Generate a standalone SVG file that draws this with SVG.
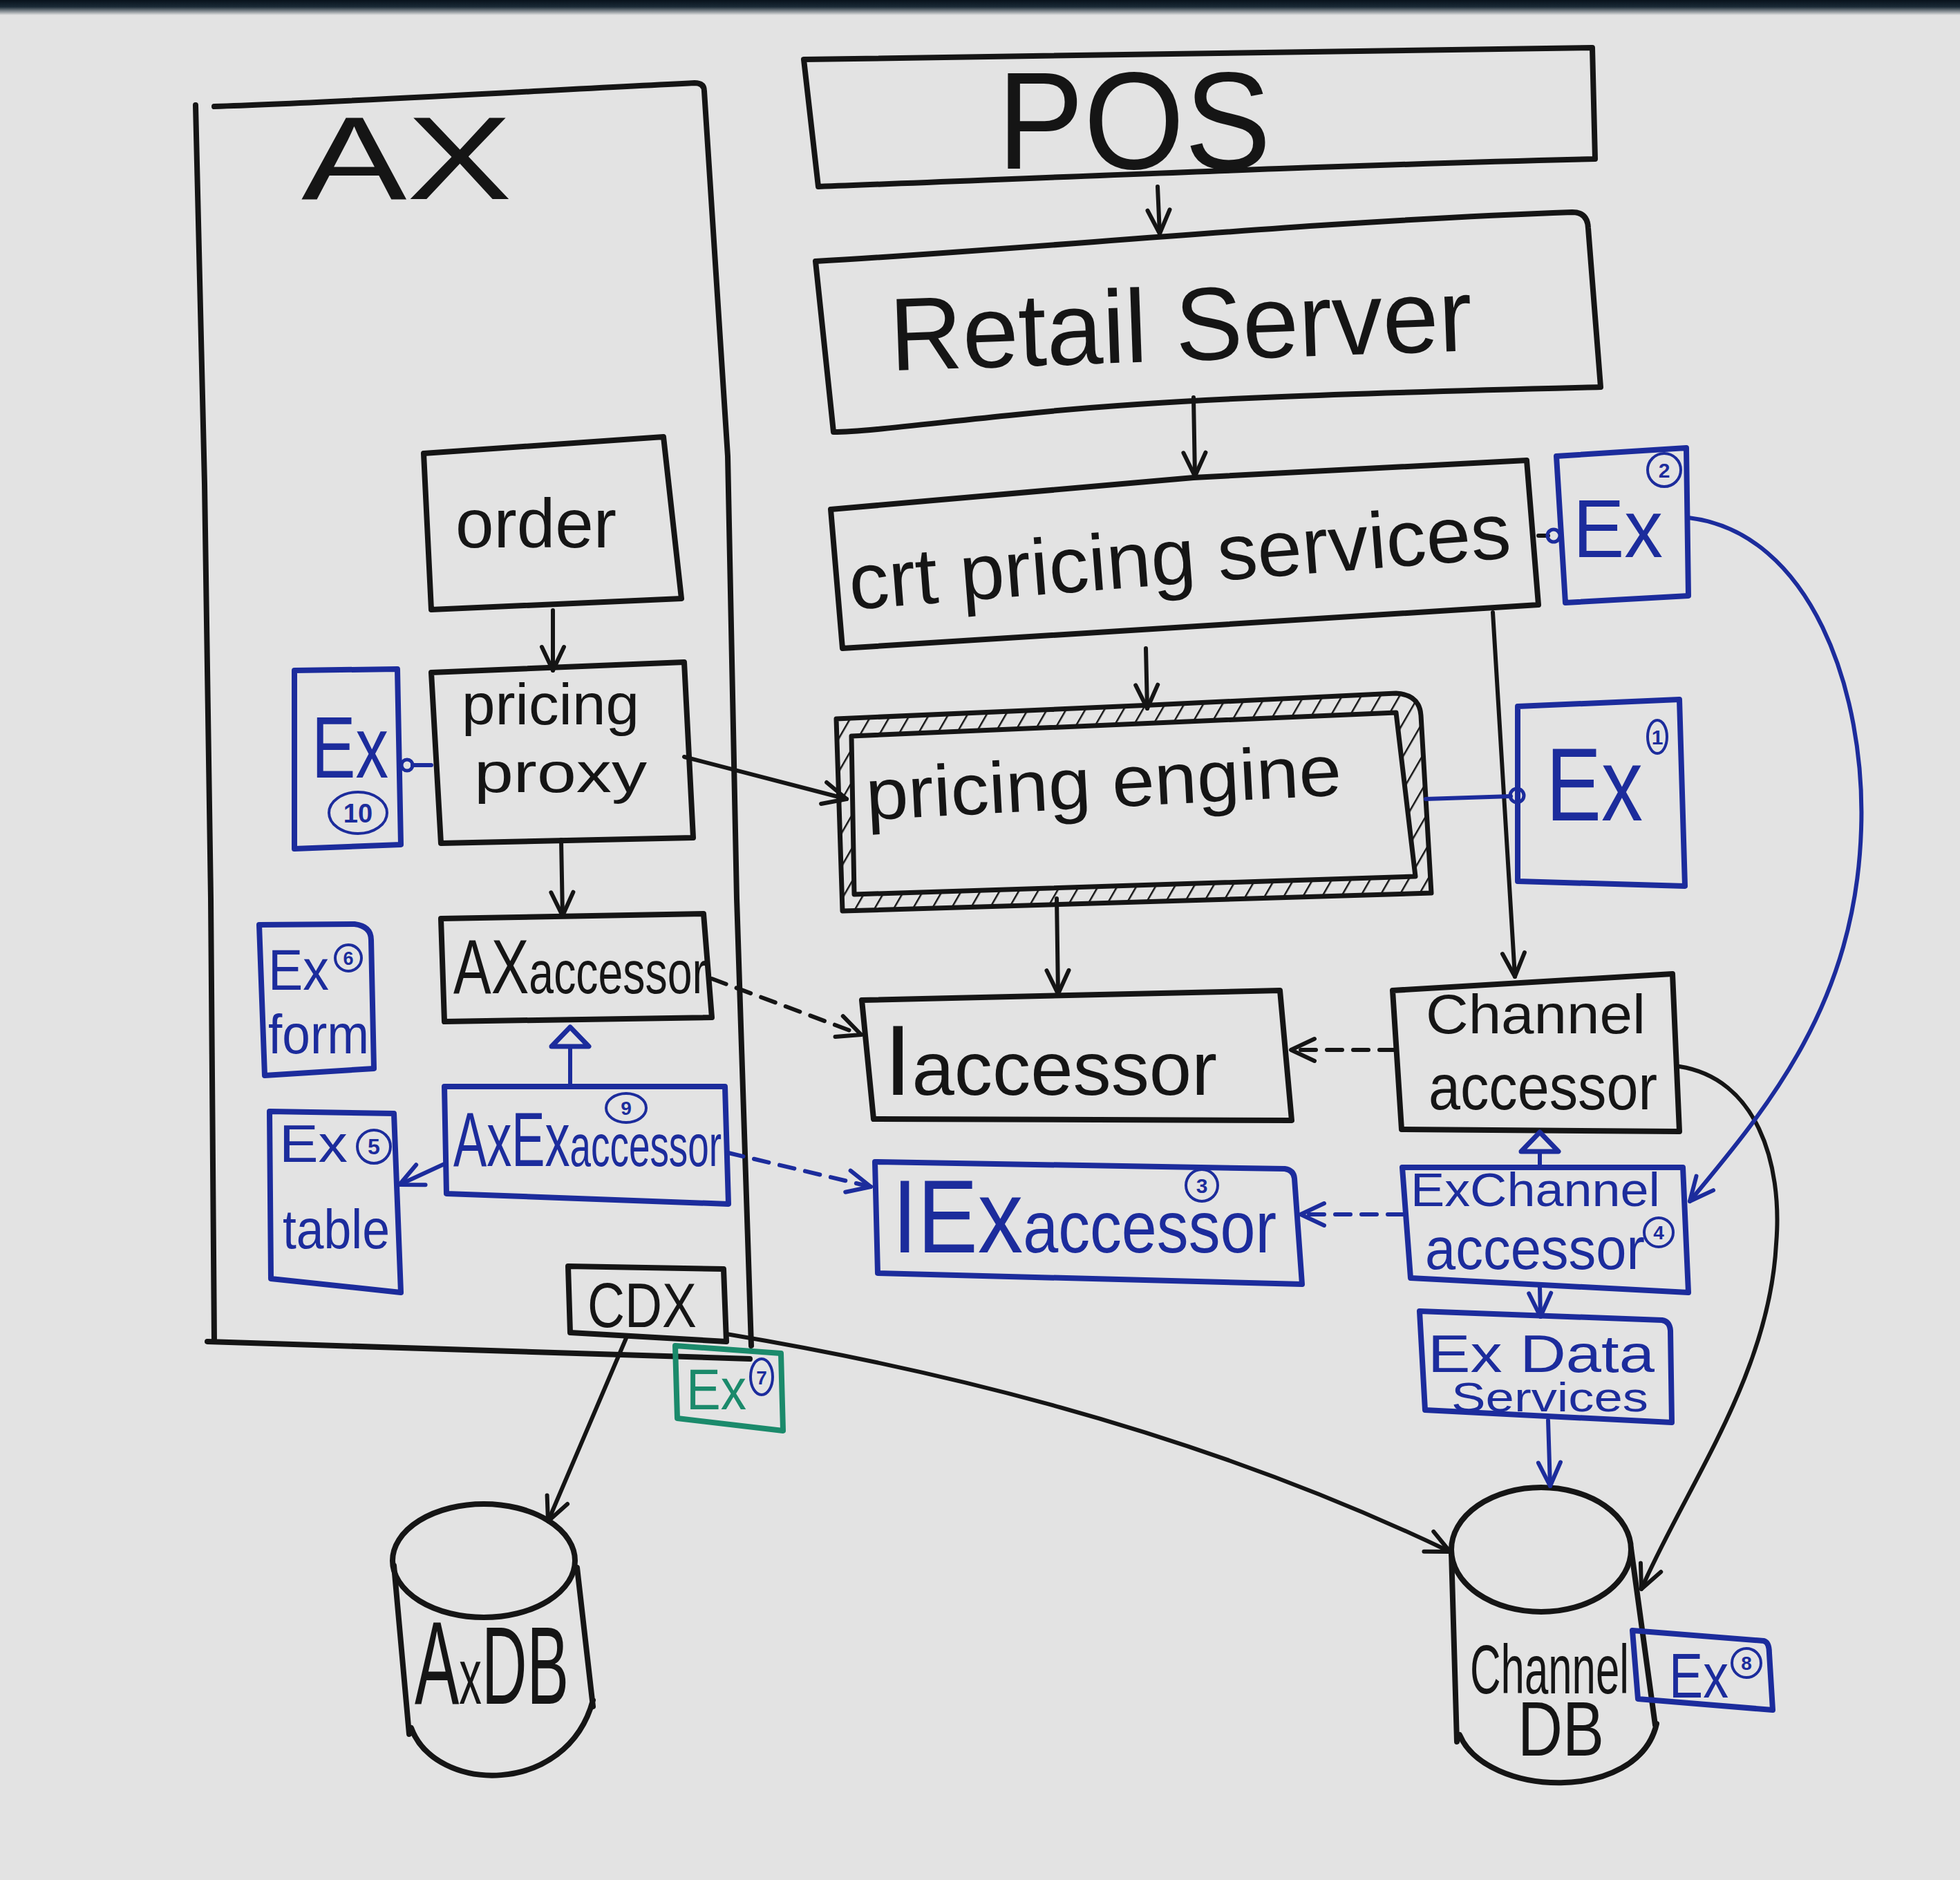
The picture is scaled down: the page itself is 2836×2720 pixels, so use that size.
<svg xmlns="http://www.w3.org/2000/svg" width="2836" height="2720" viewBox="0 0 2836 2720">
<style>
.bk{fill:none;stroke:#151515;stroke-width:8;stroke-linejoin:round;stroke-linecap:round}
.bl{fill:none;stroke:#1c2c9c;stroke-width:8;stroke-linejoin:round;stroke-linecap:round}
.gr{fill:none;stroke:#1b8a6b;stroke-width:8;stroke-linejoin:round;stroke-linecap:round}
.cb{fill:none;stroke:#151515;stroke-width:6;stroke-linecap:round}
.cu{fill:none;stroke:#1c2c9c;stroke-width:6;stroke-linecap:round}
.dash{stroke-dasharray:22 16}
.num{fill:none;stroke:#1c2c9c;stroke-width:4}
text{font-family:"Liberation Sans","DejaVu Sans",sans-serif}
.tk{fill:#151515}
.tb{fill:#1c2c9c}
.tg{fill:#1b8a6b}
.tn{fill:#1c2c9c;font-weight:bold;text-anchor:middle}
</style>
<defs>
<marker id="ab" markerUnits="userSpaceOnUse" markerWidth="44" markerHeight="44" viewBox="0 0 44 44" refX="40" refY="22" orient="auto">
<path d="M6,6 L40,22 L6,38" fill="none" stroke="#151515" stroke-width="6" stroke-linecap="round" stroke-linejoin="round"/>
</marker>
<marker id="au" markerUnits="userSpaceOnUse" markerWidth="44" markerHeight="44" viewBox="0 0 44 44" refX="40" refY="22" orient="auto">
<path d="M6,6 L40,22 L6,38" fill="none" stroke="#1c2c9c" stroke-width="6" stroke-linecap="round" stroke-linejoin="round"/>
</marker>
<marker id="tri" markerUnits="userSpaceOnUse" markerWidth="50" markerHeight="70" viewBox="-6 -35 50 70" refX="30" refY="0" orient="auto">
<path d="M2,-27 L30,0 L2,27 Z" fill="#e3e3e3" stroke="#1c2c9c" stroke-width="7" stroke-linejoin="round"/>
</marker>
<pattern id="hatch" patternUnits="userSpaceOnUse" width="24" height="24" patternTransform="rotate(30)">
<rect width="24" height="24" fill="#e3e3e3"/>
<line x1="0" y1="0" x2="0" y2="24" stroke="#151515" stroke-width="5"/>
</pattern>
<linearGradient id="edge" x1="0" y1="0" x2="0" y2="1">
<stop offset="0" stop-color="#08121c"/>
<stop offset="0.45" stop-color="#1a2a36"/>
<stop offset="1" stop-color="#e3e3e3"/>
</linearGradient>
</defs>
<rect x="0" y="0" width="2836" height="2720" fill="#e3e3e3"/>
<rect x="0" y="0" width="2836" height="22" fill="url(#edge)"/>

<g id="ax">
<path class="bk" d="M283,152 L296,700 L305,1300 L310,1941 M310,154 C500,148 800,130 1005,120 Q1019,120 1019,132 L1053,660 L1066,1300 L1087,1947 M300,1941 C600,1950 900,1958 1085,1966"/>
<text class="tk" x="436" y="288" font-size="170" textLength="305" lengthAdjust="spacingAndGlyphs">AX</text>
</g>

<g id="pos">
<path class="bk" d="M1163,86 C1500,80 1900,72 2304,69 L2308,230 C1900,240 1500,258 1184,270 Z"/>
<text class="tk" x="1443" y="244" font-size="200" textLength="396" lengthAdjust="spacingAndGlyphs">POS</text>
</g>

<g id="retail-server">
<path class="bk" d="M1180,378 C1500,360 1900,320 2275,307 Q2297,307 2298,330 L2316,560 C2000,568 1700,575 1470,600 C1350,612 1250,625 1206,625 Z"/>
<text class="tk" x="1288" y="522" font-size="150" textLength="843" lengthAdjust="spacingAndGlyphs" transform="rotate(-2 1700 500)">Retail Server</text>
</g>

<g id="crt-pricing-services">
<path class="bk" d="M1202,737 L1727,691 L2209,666 L2226,875 L1219,938 Z"/>
<text class="tk" x="1227" y="845" font-size="115" textLength="960" lengthAdjust="spacingAndGlyphs" transform="rotate(-4.5 1700 810)">crt pricing services</text>
</g>

<g id="ex2">
<path class="bl" d="M2252,660 L2440,648 L2443,862 L2265,872 Z"/>
<text class="tb" x="2276" y="806" font-size="118" textLength="130" lengthAdjust="spacingAndGlyphs">Ex</text>
<circle class="num" cx="2408" cy="680" r="24"/>
<text class="tn" x="2408" y="691" font-size="30">2</text>
</g>

<g id="pricing-engine">
<path d="M1210,1040 L1667,1020 L2020,1003 Q2054,1005 2056,1035 L2071,1292 L1219,1318 Z M1232,1065 L2020,1031 L2048,1268 L1236,1294 Z" fill="url(#hatch)" fill-rule="evenodd" stroke="#151515" stroke-width="7" stroke-linejoin="round"/>
<text class="tk" x="1253" y="1168" font-size="105" textLength="689" lengthAdjust="spacingAndGlyphs" transform="rotate(-3 1600 1150)">pricing engine</text>
</g>

<g id="ex1">
<path class="bl" d="M2196,1022 L2430,1012 L2438,1282 L2196,1275 Z"/>
<text class="tb" x="2237" y="1187" font-size="150" textLength="140" lengthAdjust="spacingAndGlyphs">Ex</text>
<ellipse class="num" cx="2398" cy="1066" rx="14" ry="24"/>
<text class="tn" x="2398" y="1077" font-size="30">1</text>
</g>

<g id="order">
<path class="bk" d="M613,656 L960,632 L986,866 L624,882 Z"/>
<text class="tk" x="659" y="792" font-size="100" textLength="233" lengthAdjust="spacingAndGlyphs">order</text>
</g>

<g id="pricing-proxy">
<path class="bk" d="M624,973 L990,958 L1003,1212 L638,1220 Z"/>
<text class="tk" x="668" y="1048" font-size="84" textLength="257" lengthAdjust="spacingAndGlyphs">pricing</text>
<text class="tk" x="686" y="1146" font-size="82" textLength="250" lengthAdjust="spacingAndGlyphs">proxy</text>
</g>

<g id="ex10">
<path class="bl" d="M426,970 L575,968 L580,1222 L426,1228 Z"/>
<text class="tb" x="451" y="1125" font-size="126" textLength="111" lengthAdjust="spacingAndGlyphs">Ex</text>
<ellipse class="num" cx="518" cy="1176" rx="42" ry="30"/>
<text class="tn" x="518" y="1190" font-size="38">10</text>
</g>

<g id="ax-accessor">
<path class="bk" d="M638,1329 L1018,1322 L1030,1472 L643,1478 Z"/>
<text class="tk" x="656" y="1437" textLength="367" lengthAdjust="spacingAndGlyphs"><tspan font-size="112">AX</tspan><tspan font-size="88">accessor</tspan></text>
</g>

<g id="ex6-form">
<path class="bl" d="M375,1338 L513,1337 Q537,1340 537,1360 L541,1546 L383,1556 Z"/>
<text class="tb" x="388" y="1432" font-size="84" textLength="88" lengthAdjust="spacingAndGlyphs">Ex</text>
<circle class="num" cx="504" cy="1386" r="19"/>
<text class="tn" x="504" y="1396" font-size="27">6</text>
<text class="tb" x="388" y="1524" font-size="80" textLength="146" lengthAdjust="spacingAndGlyphs">form</text>
</g>

<g id="ax-ex-accessor">
<path class="bl" d="M643,1572 L1049,1572 L1054,1742 L646,1727 Z"/>
<text class="tb" x="656" y="1687" textLength="388" lengthAdjust="spacingAndGlyphs"><tspan font-size="112">AxEx</tspan><tspan font-size="85">accessor</tspan></text>
<ellipse class="num" cx="906" cy="1603" rx="29" ry="21"/>
<text class="tn" x="906" y="1613" font-size="28">9</text>
</g>

<g id="ex5-table">
<path class="bl" d="M390,1608 L570,1611 L580,1870 L392,1850 Z"/>
<text class="tb" x="404" y="1681" font-size="76" textLength="99" lengthAdjust="spacingAndGlyphs">Ex</text>
<circle class="num" cx="541" cy="1659" r="24"/>
<text class="tn" x="541" y="1670" font-size="32">5</text>
<text class="tb" x="409" y="1806" font-size="80" textLength="155" lengthAdjust="spacingAndGlyphs">table</text>
</g>

<g id="cdx">
<path class="bk" d="M822,1832 L1047,1836 L1051,1941 L825,1928 Z"/>
<text class="tk" x="850" y="1920" font-size="90" textLength="158" lengthAdjust="spacingAndGlyphs">CDX</text>
</g>

<g id="ex7">
<path class="gr" d="M977,1947 L1130,1958 L1133,2070 L980,2052 Z"/>
<text class="tg" x="993" y="2039" font-size="84" textLength="87" lengthAdjust="spacingAndGlyphs">Ex</text>
<ellipse class="num" cx="1102" cy="1992" rx="16" ry="26"/>
<text class="tn" x="1102" y="2003" font-size="28">7</text>
</g>

<g id="i-accessor">
<path class="bk" d="M1247,1447 L1852,1433 L1869,1621 L1264,1619 Z"/>
<text class="tk" x="1279" y="1584" textLength="482" lengthAdjust="spacingAndGlyphs"><tspan font-size="145">I</tspan><tspan font-size="110">accessor</tspan></text>
</g>

<g id="channel-accessor">
<path class="bk" d="M2015,1433 L2420,1409 L2430,1637 L2028,1634 Z"/>
<text class="tk" x="2063" y="1495" font-size="80" textLength="318" lengthAdjust="spacingAndGlyphs">Channel</text>
<text class="tk" x="2067" y="1605" font-size="92" textLength="331" lengthAdjust="spacingAndGlyphs">accessor</text>
</g>

<g id="iex-accessor">
<path class="bl" d="M1266,1681 L1859,1691 Q1872,1693 1873,1705 L1884,1858 L1270,1842 Z"/>
<text class="tb" x="1291" y="1812" textLength="556" lengthAdjust="spacingAndGlyphs"><tspan font-size="150">IEx</tspan><tspan font-size="105">accessor</tspan></text>
<circle class="num" cx="1739" cy="1715" r="23"/>
<text class="tn" x="1739" y="1726" font-size="30">3</text>
</g>

<g id="ex-channel-accessor">
<path class="bl" d="M2029,1689 L2435,1689 L2443,1870 L2041,1849 Z"/>
<text class="tb" x="2041" y="1745" font-size="68" textLength="361" lengthAdjust="spacingAndGlyphs">ExChannel</text>
<text class="tb" x="2062" y="1836" font-size="86" textLength="318" lengthAdjust="spacingAndGlyphs">accessor</text>
<circle class="num" cx="2400" cy="1783" r="21"/>
<text class="tn" x="2400" y="1793" font-size="28">4</text>
</g>

<g id="ex-data-services">
<path class="bl" d="M2054,1897 L2405,1910 Q2416,1912 2417,1925 L2419,2058 L2062,2040 Z"/>
<text class="tb" x="2066" y="1985" font-size="76" textLength="328" lengthAdjust="spacingAndGlyphs">Ex Data</text>
<text class="tb" x="2100" y="2042" font-size="60" textLength="285" lengthAdjust="spacingAndGlyphs">Services</text>
</g>

<g id="ax-db">
<ellipse class="bk" cx="700" cy="2258" rx="132" ry="82"/>
<path class="bk" d="M570,2265 L592,2509 M835,2268 L858,2469 M595,2500 C630,2595 820,2600 858,2460"/>
<text class="tk" x="600" y="2465" textLength="223" lengthAdjust="spacingAndGlyphs"><tspan font-size="170">A</tspan><tspan font-size="115">x</tspan><tspan font-size="160">DB</tspan></text>
</g>

<g id="channel-db">
<ellipse class="bk" cx="2230" cy="2242" rx="130" ry="90"/>
<path class="bk" d="M2100,2245 L2108,2520 M2360,2240 L2395,2496 M2112,2510 C2150,2600 2370,2610 2397,2494"/>
<text class="tk" x="2127" y="2450" font-size="100" textLength="230" lengthAdjust="spacingAndGlyphs">Channel</text>
<text class="tk" x="2196" y="2540" font-size="112" textLength="125" lengthAdjust="spacingAndGlyphs">DB</text>
</g>

<g id="ex8">
<path class="bl" d="M2362,2359 L2552,2374 Q2560,2376 2560,2392 L2565,2474 L2370,2458 Z"/>
<text class="tb" x="2415" y="2456" font-size="90" textLength="86" lengthAdjust="spacingAndGlyphs">Ex</text>
<circle class="num" cx="2527" cy="2406" r="21"/>
<text class="tn" x="2527" y="2416" font-size="28">8</text>
</g>

<g id="connectors">
<path class="cb" d="M1675,270 L1678,338" marker-end="url(#ab)"/>
<path class="cb" d="M1727,575 L1729,689" marker-end="url(#ab)"/>
<path class="cb" d="M1658,938 L1660,1025" marker-end="url(#ab)"/>
<path class="cb" d="M2160,886 L2192,1413" marker-end="url(#ab)"/>
<path class="cb" d="M1529,1300 L1531,1438" marker-end="url(#ab)"/>
<path class="cb" d="M800,883 L800,970" marker-end="url(#ab)"/>
<path class="cb" d="M812,1215 L814,1325" marker-end="url(#ab)"/>
<path class="cb" d="M990,1095 L1225,1156" marker-end="url(#ab)"/>
<path class="cb dash" d="M1030,1416 L1246,1497" marker-end="url(#ab)"/>
<path class="cb dash" d="M2018,1519 L1868,1519" marker-end="url(#ab)"/>
<path class="cb" d="M906,1936 L793,2201" marker-end="url(#ab)"/>
<path class="cb" d="M1051,1930 Q1650,2030 2098,2245" marker-end="url(#ab)"/>
<path class="cb" d="M2430,1543 C2540,1560 2580,1680 2570,1800 C2560,1990 2440,2150 2375,2299" marker-end="url(#ab)"/>
<path class="cb" d="M2226,775 L2240,775"/>
<circle cx="2248" cy="775" r="9" fill="none" stroke="#1c2c9c" stroke-width="5"/>
<path class="cu" d="M2063,1156 L2186,1152"/>
<circle cx="2195" cy="1151" r="10" fill="none" stroke="#1c2c9c" stroke-width="5"/>
<path class="cu" d="M624,1107 L597,1107"/>
<circle cx="589" cy="1107" r="8" fill="none" stroke="#1c2c9c" stroke-width="5"/>
<path class="cu" d="M825,1572 L825,1486" marker-end="url(#tri)"/>
<path class="cu" d="M2228,1689 L2228,1638" marker-end="url(#tri)"/>
<path class="cu dash" d="M1054,1668 L1260,1717" marker-end="url(#au)"/>
<path class="cu dash" d="M2030,1757 L1882,1757" marker-end="url(#au)"/>
<path class="cu" d="M2228,1862 L2229,1905" marker-end="url(#au)"/>
<path class="cu" d="M2240,2055 L2243,2150" marker-end="url(#au)"/>
<path class="cu" d="M643,1684 L578,1714" marker-end="url(#au)"/>
<path class="cu" d="M2443,749 C2620,770 2700,1000 2693,1200 C2685,1450 2560,1600 2445,1738" marker-end="url(#au)"/>
</g>
</svg>
